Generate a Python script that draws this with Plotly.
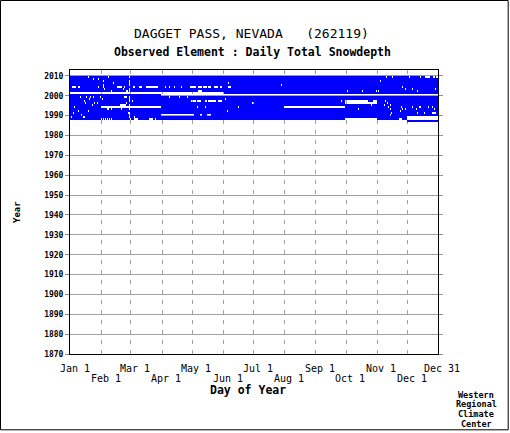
import plotly.graph_objects as go

# ---------------- data ----------------
YEARS = [1987, 1988, 1989, 1990, 1991, 1992, 1993, 1994, 1995, 1996, 1997, 1998,
         1999, 2000, 2001, 2002, 2003, 2004, 2005, 2006, 2007, 2008, 2009]
LEAP_YEARS = [1988, 1992, 1996, 2000, 2004, 2008]
FEB29 = 60
N_DAYS = 366

# missing-day ranges (day-of-year, inclusive) per year
MISS_1987 = [(1, 335)]
MISS_1988 = [(32, 32), (34, 34), (36, 36), (38, 38), (40, 40), (42, 42), (61, 61), (65, 68),
             (80, 83), (86, 86), (275, 305), (328, 330), (336, 366)]
MISS_1989 = [(2, 2), (14, 15), (65, 65), (336, 366)]
MISS_1990 = [(12, 12), (92, 123), (130, 131), (137, 140), (319, 319)]
MISS_1991 = [(4, 4), (59, 59), (320, 320), (346, 346), (353, 353), (361, 364)]
MISS_1992 = [(9, 9), (19, 19), (157, 157), (329, 329)]
MISS_1993 = [(38, 39), (42, 42), (52, 52), (287, 287), (319, 319), (331, 331), (334, 334),
             (345, 345), (363, 363)]
MISS_1994 = [(5, 5), (32, 91), (127, 127), (135, 135), (168, 168), (214, 274), (317, 317),
             (330, 330), (341, 341), (348, 349), (357, 357), (361, 361)]
MISS_1995 = [(23, 23), (51, 56), (300, 300), (313, 313), (319, 319)]
MISS_1996 = [(16, 16), (25, 25), (28, 28), (57, 57), (182, 183), (275, 305), (316, 316)]
MISS_1997 = [(15, 15), (63, 63), (121, 125), (127, 130), (135, 136), (138, 145), (148, 151),
             (271, 271), (275, 296), (302, 305), (314, 314)]
MISS_1998 = [(20, 20), (33, 33), (155, 155)]
MISS_1999 = [(11, 11), (17, 17), (21, 21), (24, 24), (31, 31), (55, 57), (99, 99), (109, 109),
             (117, 117)]
MISS_2000 = [(92, 366)]
MISS_2001 = [(1, 153)]
MISS_2002 = [(42, 42), (57, 58), (128, 131), (276, 276), (291, 291), (305, 305), (307, 307),
             (346, 346)]
MISS_2003 = [(35, 35), (54, 54), (334, 334), (341, 341), (364, 364)]
MISS_2004 = [(3, 6), (9, 10), (29, 29), (34, 34), (48, 52), (55, 55), (64, 65), (70, 72),
             (77, 88), (95, 95), (99, 99), (104, 104), (111, 111), (120, 125), (128, 131),
             (133, 136), (138, 140), (144, 147), (150, 151), (158, 160), (331, 331)]
MISS_2005 = [(34, 34), (211, 211)]
MISS_2006 = [(44, 44), (158, 158)]
MISS_2007 = [(34, 34), (309, 309)]
MISS_2008 = [(24, 24), (29, 29)]
MISS_2009 = [(19, 19), (39, 39), (315, 315), (321, 321), (338, 338), (349, 349), (354, 358),
             (362, 363), (365, 366)]

MISSING = [MISS_1987, MISS_1988, MISS_1989, MISS_1990, MISS_1991, MISS_1992, MISS_1993,
           MISS_1994, MISS_1995, MISS_1996, MISS_1997, MISS_1998, MISS_1999, MISS_2000,
           MISS_2001, MISS_2002, MISS_2003, MISS_2004, MISS_2005, MISS_2006, MISS_2007,
           MISS_2008, MISS_2009]

TOP_TICK_DAYS = [1, 61, 122, 183, 245, 306, 366]
TOP_TICK_TEXT = ["Jan 1", "Mar 1", "May 1", "Jul 1", "Sep 1", "Nov 1", "Dec 31"]
LOW_TICK_DAYS = [32, 92, 153, 214, 275, 336]
LOW_TICK_TEXT = ["Feb 1", "Apr 1", "Jun 1", "Aug 1", "Oct 1", "Dec 1"]
MONTH_GRID_DAYS = [32, 61, 92, 122, 153, 183, 214, 245, 275, 306, 336]
YEAR_TICKS = [1870, 1880, 1890, 1900, 1910, 1920, 1930, 1940, 1950, 1960, 1970, 1980,
              1990, 2000, 2010]

TITLE = "DAGGET PASS, NEVADA\u00a0\u00a0\u00a0(262119)"
SUBTITLE = "Observed Element : Daily Total Snowdepth"

# ---------------- build matrix ----------------
days = list(range(1, N_DAYS + 1))
z = []
for year, ranges in zip(YEARS, MISSING):
    row = [1] * N_DAYS
    for a, b in ranges:
        for d in range(a, b + 1):
            row[d - 1] = None
    if year not in LEAP_YEARS:
        row[FEB29 - 1] = None
    z.append(row)
y_edges = YEARS + [YEARS[-1] + 1]

MONO = "DejaVu Sans Mono"
GRID = "#a0a0a0"

fig = go.Figure()
fig.add_trace(go.Heatmap(
    x=days, y=y_edges, z=z,
    colorscale=[[0, "#0000ff"], [1, "#0000ff"]],
    showscale=False, hoverinfo="skip", zmin=0, zmax=1,
))

PW, PH = 368, 284
L, T = 70, 70

def px_to_paper_x(px):
    return (px - L) / PW

def py_to_paper_y(py):
    return (T + PH - py) / PH

annotations = []
for d, t in zip(TOP_TICK_DAYS, TOP_TICK_TEXT):
    annotations.append(dict(x=d, y=0, xref="x", yref="paper", text=t, showarrow=False,
                            xanchor="center", yanchor="middle", yshift=-14.7, xshift=4.3,
                            font=dict(family=MONO, size=10, color="black")))
for d, t in zip(LOW_TICK_DAYS, LOW_TICK_TEXT):
    annotations.append(dict(x=d, y=0, xref="x", yref="paper", text=t, showarrow=False,
                            xanchor="center", yanchor="middle", yshift=-24.7, xshift=4.3,
                            font=dict(family=MONO, size=10, color="black")))

annotations += [
    dict(x=px_to_paper_x(251.7), y=py_to_paper_y(33), xref="paper", yref="paper",
         text=TITLE, showarrow=False, xanchor="center", yanchor="middle",
         font=dict(family=MONO, size=13, color="black")),
    dict(x=px_to_paper_x(252), y=py_to_paper_y(52.3), xref="paper", yref="paper",
         text="<b>" + SUBTITLE + "</b>", showarrow=False, xanchor="center", yanchor="middle",
         font=dict(family=MONO, size=11.5, color="black")),
    dict(x=px_to_paper_x(247.7), y=py_to_paper_y(390), xref="paper", yref="paper",
         text="<b>Day of Year</b>", showarrow=False, xanchor="center", yanchor="middle",
         font=dict(family=MONO, size=11.5, color="black")),
    dict(x=px_to_paper_x(17), y=py_to_paper_y(212), xref="paper", yref="paper",
         text="<b>Year</b>", showarrow=False, xanchor="center", yanchor="middle",
         textangle=-90, font=dict(family=MONO, size=9, color="black")),
]
for txt, py in zip(["Western", "Regional", "Climate", "Center"], [395, 404.3, 414, 423.7]):
    annotations.append(dict(x=px_to_paper_x(476.3), y=py_to_paper_y(py), xref="paper",
                            yref="paper", text="<b>" + txt + "</b>", showarrow=False,
                            xanchor="center", yanchor="middle",
                            font=dict(family=MONO, size=8.5, color="black")))

fig.update_layout(
    width=510, height=433,
    margin=dict(l=L, r=510 - L - PW, t=T, b=433 - T - PH, pad=0),
    paper_bgcolor="white", plot_bgcolor="white",
    showlegend=False,
    annotations=annotations,
    shapes=[dict(type="rect", xref="paper", yref="paper",
                 x0=px_to_paper_x(0.5), x1=px_to_paper_x(508.2),
                 y0=py_to_paper_y(429.8), y1=py_to_paper_y(0.5),
                 line=dict(color="black", width=1), fillcolor="rgba(0,0,0,0)", layer="above")],
    xaxis=dict(range=[0.5, N_DAYS + 0.5], tickvals=MONTH_GRID_DAYS, showticklabels=False,
               ticks="", showgrid=True, gridcolor=GRID, gridwidth=1, griddash="4px,6px",
               showline=True, linecolor="black", linewidth=1, mirror=True, zeroline=False,
               fixedrange=True),
    yaxis=dict(range=[1870, 2013], tickvals=YEAR_TICKS, ticktext=[str(v) for v in YEAR_TICKS],
               ticks="outside", ticklen=4, tickcolor="#909090", tickwidth=1,
               showgrid=True, gridcolor=GRID, gridwidth=1,
               showline=True, linecolor="black", linewidth=1, mirror="ticks", zeroline=False,
               tickfont=dict(family=MONO, size=8, color="black", weight="bold"),
               fixedrange=True),
)

fig.write_html("out.html", config={"displayModeBar": False},
               post_script="document.body.style.margin='0';document.body.style.overflow='hidden';")
